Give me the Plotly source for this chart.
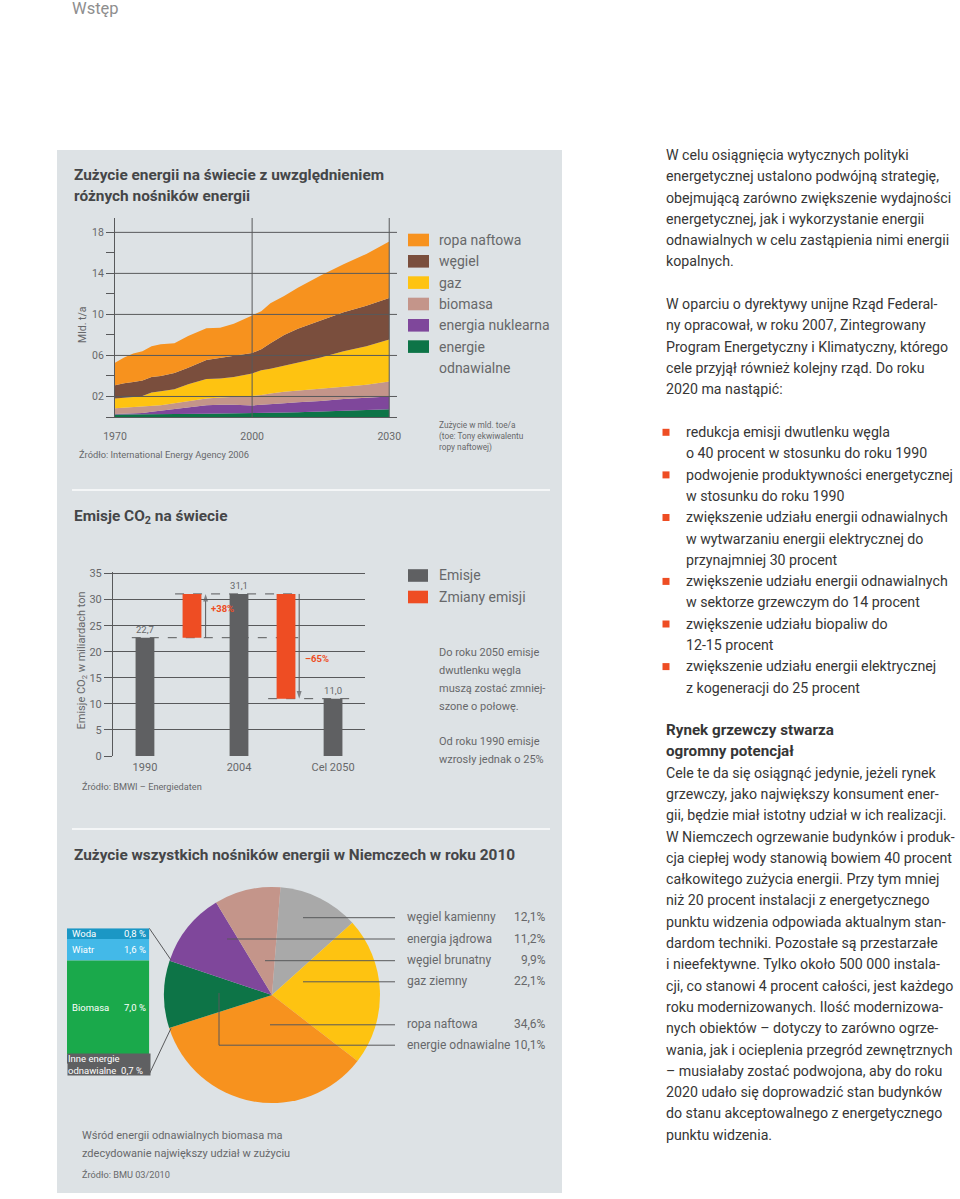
import plotly.graph_objects as go
from itertools import accumulate

W, H = 960, 1199
FONT = "Roboto"
TXT = "#363636"
CH = "#67686a"
TITLE = "#454648"
GRID = "#58595b"
PANEL = "#dde2e5"
RED = "#ee4d23"
GRAYBAR = "#5f6062"
BODY = 14.2

# ---------------- data: world energy use (Mld. toe/a), IEA 2006 ----------------
years = [1970, 1972, 1974, 1976, 1978, 1980, 1983, 1986, 1990, 1993,
         1996, 2000, 2002, 2004, 2007, 2010, 2015, 2020, 2025, 2030]
renewables = [0.25, 0.25, 0.26, 0.27, 0.28, 0.28, 0.29, 0.30, 0.32, 0.33,
              0.34, 0.35, 0.37, 0.40, 0.43, 0.47, 0.53, 0.60, 0.67, 0.75]
nuclear = [0.05, 0.07, 0.09, 0.13, 0.22, 0.32, 0.51, 0.65, 0.83, 0.87,
           0.86, 0.77, 0.83, 0.90, 0.92, 0.98, 1.02, 1.15, 1.18, 1.25]
biomass = [0.55, 0.58, 0.60, 0.60, 0.60, 0.55, 0.55, 0.60, 0.65, 0.70,
           0.75, 0.93, 0.95, 1.00, 1.10, 1.10, 1.20, 1.20, 1.30, 1.45]
gas = [0.95, 0.95, 1.00, 1.05, 1.30, 1.35, 1.35, 1.65, 1.90, 1.85,
       1.95, 2.20, 2.40, 2.40, 2.55, 2.75, 3.05, 3.45, 3.75, 4.10]
coal = [1.30, 1.45, 1.45, 1.50, 1.50, 1.50, 1.60, 1.60, 1.85, 2.00,
        2.05, 2.00, 2.05, 2.50, 3.00, 3.30, 3.60, 3.80, 3.95, 4.05]
oil = [2.20, 2.50, 2.80, 2.85, 3.00, 3.10, 2.90, 3.10, 3.10, 2.95,
       3.15, 3.70, 3.70, 3.90, 3.80, 4.00, 4.40, 4.70, 5.05, 5.50]
energy_names = ["energie odnawialne", "energia nuklearna", "biomasa", "gaz", "węgiel", "ropa naftowa"]
energy_series = [renewables, nuclear, biomass, gas, coal, oil]
energy_colors = ["#0d7447", "#7f479b", "#c4958a", "#fec311", "#7a4e3d", "#f7921e"]
world_xticks = [1970, 2000, 2030]
world_yticks = [2, 6, 10, 14, 18]
world_yticktext = ["02", "06", "10", "14", "18"]
world_yminor = [0, 4, 8, 12, 16]

# ---------------- data: CO2 emissions (mld t) ----------------
co2_labels = ["1990", "2004", "Cel 2050"]
co2_values = [22.7, 31.1, 11.0]
co2_change_text = ["+38%", "–65%"]

# ---------------- data: Germany 2010 energy mix (%) ----------------
de_labels = ["węgiel kamienny", "energia jądrowa", "węgiel brunatny", "gaz ziemny", "ropa naftowa", "energie odnawialne"]
de_values = [12.1, 11.2, 9.9, 22.1, 34.6, 10.1]
de_colors = ["#a9a9a9", "#7f479b", "#c4958a", "#fec311", "#f7921e", "#0d7447"]
pie_order = ["węgiel kamienny", "gaz ziemny", "ropa naftowa", "energie odnawialne", "energia jądrowa", "węgiel brunatny"]

ren_labels = ["Woda", "Wiatr", "Biomasa", "Inne energie odnawialne"]
ren_values = [0.8, 1.6, 7.0, 0.7]
ren_colors = ["#1b97c5", "#43b9e8", "#1aa94b", "#5f6062"]


def px(x):
    return x / W


def py(y):
    return 1 - y / H


def pl(v, suffix="%"):
    return f"{v:.1f}".replace(".", ",") + suffix


shapes = []
ann = []


def T(x, y, s, size=BODY, color=TXT, bold=False, xa="left", angle=0):
    ann.append(dict(x=px(x), y=py(y), xref="paper", yref="paper",
                    text=(f"<b>{s}</b>" if bold else s), showarrow=False,
                    xanchor=xa, yanchor="middle", textangle=angle,
                    font=dict(size=size, color=color, family=FONT)))


def L(x0, y0, x1, y1, color=GRID, width=1, dash=None, layer="above"):
    shapes.append(dict(type="line", xref="paper", yref="paper", layer=layer,
                       x0=px(x0), y0=py(y0), x1=px(x1), y1=py(y1),
                       line=dict(color=color, width=width, dash=dash)))


def R(x0, y0, x1, y1, color, layer="above"):
    shapes.append(dict(type="rect", xref="paper", yref="paper", layer=layer,
                       x0=px(x0), y0=py(y0), x1=px(x1), y1=py(y1),
                       fillcolor=color, line=dict(width=0)))


# background panel
R(57, 150, 562, 1193, PANEL, layer="below")
# separators
L(72, 490, 550, 490, color="#f4f6f7", width=2)
L(72, 829, 550, 829, color="#f4f6f7", width=2)

fig = go.Figure()

# ---------------- chart 1: stacked area ----------------
for name, vals, col in zip(energy_names, energy_series, energy_colors):
    fig.add_trace(go.Scatter(x=years, y=vals, name=name, mode="lines", stackgroup="world",
                             line=dict(width=0, color=col), fillcolor=col,
                             xaxis="x", yaxis="y", hoverinfo="skip"))
# grid lines drawn above the areas
for v in world_yticks:
    shapes.append(dict(type="line", xref="x domain", yref="y", x0=0, x1=1, y0=v, y1=v,
                       layer="above", line=dict(color=GRID, width=1)))
for v in world_xticks[1:]:
    shapes.append(dict(type="line", xref="x", yref="y domain", x0=v, x1=v, y0=0, y1=1,
                       layer="above", line=dict(color=GRID, width=1)))

T(72, 175, "Zużycie energii na świecie z uwzględnieniem", 15.4, TITLE, True)
T(72, 196.5, "różnych nośników energii", 15.4, TITLE, True)
T(82, 325, "Mld. t/a", 10.5, CH, xa="center", angle=-90)
T(77, 455, "Źródło: International Energy Agency 2006", 9.3, CH)

leg_y = [240, 261.3, 282.6, 304, 325.3, 346.6]
for yy, name, col in zip(leg_y, energy_names[::-1], energy_colors[::-1]):
    R(408, yy - 6.3, 429, yy + 6.3, col)
    T(437, yy, "energie" if name == "energie odnawialne" else name, 14, CH)
T(437, 368, "odnawialne", 14, CH)
T(437, 425, "Zużycie w mld. toe/a", 8.3, CH)
T(437, 436, "(toe: Tony ekwiwalentu", 8.3, CH)
T(437, 447, "ropy naftowej)", 8.3, CH)

# ---------------- chart 2: CO2 bars ----------------
co2_x = [0, 2, 4]
fig.add_trace(go.Bar(x=co2_x, y=co2_values, width=0.4, name="Emisje",
                     marker=dict(color=GRAYBAR, line=dict(width=0)),
                     texttemplate="%{y:.1f}", textposition="outside",
                     textfont=dict(size=9.5, color=CH, family=FONT), cliponaxis=False,
                     xaxis="x2", yaxis="y2", hoverinfo="skip"))
chg_base = [min(a, b) for a, b in zip(co2_values[:-1], co2_values[1:])]
chg_len = [abs(b - a) for a, b in zip(co2_values[:-1], co2_values[1:])]
fig.add_trace(go.Bar(x=[1, 3], y=chg_len, base=chg_base, width=0.4, name="Zmiany emisji",
                     marker=dict(color=RED, line=dict(width=0)),
                     xaxis="x2", yaxis="y2", hoverinfo="skip"))
for yv, x0, x1 in [(co2_values[0], -0.28, 3.26), (co2_values[1], 0.64, 3.23), (co2_values[2], 2.62, 4.36)]:
    shapes.append(dict(type="line", xref="x2", yref="y2", x0=x0, x1=x1, y0=yv, y1=yv,
                       layer="below", line=dict(color=GRID, width=1, dash="dash")))
# change arrows (line with arrow-head marker at the end)
for xa_, y_from, y_to in [(1.29, co2_values[0], co2_values[1]), (3.28, co2_values[1], co2_values[2])]:
    fig.add_trace(go.Scatter(x=[xa_, xa_], y=[y_from, y_to], mode="lines+markers",
                             line=dict(color=GRID, width=1),
                             marker=dict(symbol=["circle", "arrow"], size=[0, 8], angleref="previous",
                                         color=GRID, line=dict(width=0)),
                             xaxis="x2", yaxis="y2", hoverinfo="skip", cliponaxis=False))
ann.append(dict(x=1.36, y=28.3, xref="x2", yref="y2", text=f"<b>{co2_change_text[0]}</b>",
                showarrow=False, xanchor="left", font=dict(size=9.5, color=RED, family=FONT)))
ann.append(dict(x=3.36, y=18.8, xref="x2", yref="y2", text=f"<b>{co2_change_text[1]}</b>",
                showarrow=False, xanchor="left", font=dict(size=9.5, color=RED, family=FONT)))

T(72, 517, "Emisje CO<sub>2</sub> na świecie", 15.4, TITLE, True)
T(81.5, 661, "Emisje CO<sub>2</sub> w miliardach ton", 11, CH, xa="center", angle=-90)
T(80, 786, "Źródło: BMWI – Energiedaten", 9.2, CH)
for yy, name, col in [(575.5, "Emisje", GRAYBAR), (597, "Zmiany emisji", RED)]:
    R(408, yy - 6.3, 428, yy + 6.3, col)
    T(437, yy, name, 14, CH)
for yy, s in [(652.7, "Do roku 2050 emisje"), (670.5, "dwutlenku węgla"), (688.3, "muszą zostać zmniej-"),
              (706, "szone o połowę."), (741.5, "Od roku 1990 emisje"), (759.3, "wzrosły jednak o 25%")]:
    T(437, yy, s, 11, CH)

# ---------------- chart 3: pie ----------------
idx = [de_labels.index(n) for n in pie_order]
fig.add_trace(go.Pie(values=[de_values[i] for i in idx], labels=[de_labels[i] for i in idx],
                     marker=dict(colors=[de_colors[i] for i in idx], line=dict(width=0)),
                     sort=False, direction="clockwise", rotation=4.5, textinfo="none",
                     hoverinfo="skip", domain=dict(x=[px(164), px(380)], y=[py(1103), py(887)])))

T(72, 855, "Zużycie wszystkich nośników energii w Niemczech w roku 2010", 15.4, TITLE, True)
label_y = [917.7, 939, 960.7, 981.8, 1024.8, 1045.2]
line_start = [303, 227, 265, 303, 270, 219]
for yy, xs, name, v in zip(label_y, line_start, de_labels, de_values):
    L(xs, yy, 395, yy, GRID, 1)
    T(405, yy - 0.5, name, 12, CH)
    T(548, yy - 0.5, pl(v), 12, CH, xa="right")
L(219, 993, 219, 1045.2, GRID, 1)

# renewable breakdown column
ren_base = [0] + list(accumulate(ren_values))[:-1]
for name, v, b, col in zip(ren_labels, ren_values, ren_base, ren_colors):
    fig.add_trace(go.Bar(x=[0], y=[v], base=[b], width=1, name=name,
                         marker=dict(color=col, line=dict(width=0)),
                         xaxis="x3", yaxis="y3", hoverinfo="skip"))
for name, v, b in list(zip(ren_labels, ren_values, ren_base))[:3]:
    ann.append(dict(x=px(70), y=b + v / 2, xref="paper", yref="y3", text=name, showarrow=False,
                    xanchor="left", yanchor="middle", font=dict(size=9.5, color="white", family=FONT)))
    ann.append(dict(x=px(147.5), y=b + v / 2, xref="paper", yref="y3", text=pl(v, " %"),
                    showarrow=False, xanchor="right", yanchor="middle",
                    font=dict(size=9.5, color="white", family=FONT)))
ann.append(dict(x=px(67), y=py(1053.3), xref="paper", yref="paper", xanchor="left", yanchor="top",
                text="Inne energie<br>odnawialne  " + pl(ren_values[3], " %"), showarrow=False,
                align="left", width=82, height=21, borderpad=0, bgcolor=ren_colors[3],
                font=dict(size=9.5, color="white", family=FONT)))
L(149.3, 928.3, 171, 960, GRID, 1)
L(149.3, 1074, 171, 1028.3, GRID, 1)

T(80, 1135, "Wśród energii odnawialnych biomasa ma", 11, CH)
T(80, 1153.3, "zdecydowanie największy udział w zużyciu", 11, CH)
T(80, 1174.3, "Źródło: BMU 03/2010", 9.2, CH)

# ---------------- page text ----------------
T(70, 9, "Wstęp", 16.5, "#8e8e8e")

LS = 21.3
p1 = ["W celu osiągnięcia wytycznych polityki",
      "energetycznej ustalono podwójną strategię,",
      "obejmującą zarówno zwiększenie wydajności",
      "energetycznej, jak i wykorzystanie energii",
      "odnawialnych w celu zastąpienia nimi energii",
      "kopalnych."]
p2 = ["W oparciu o dyrektywy unijne Rząd Federal-",
      "ny opracował, w roku 2007, Zintegrowany",
      "Program Energetyczny i Klimatyczny, którego",
      "cele przyjął również kolejny rząd. Do roku",
      "2020 ma nastąpić:"]
for i, s in enumerate(p1):
    T(664, 155 + i * LS, s)
for i, s in enumerate(p2):
    T(664, 304 + i * LS, s)

bullets = [["redukcja emisji dwutlenku węgla", "o 40 procent w stosunku do roku 1990"],
           ["podwojenie produktywności energetycznej", "w stosunku do roku 1990"],
           ["zwiększenie udziału energii odnawialnych", "w wytwarzaniu energii elektrycznej do",
            "przynajmniej 30 procent"],
           ["zwiększenie udziału energii odnawialnych", "w sektorze grzewczym do 14 procent"],
           ["zwiększenie udziału biopaliw do", "12-15 procent"],
           ["zwiększenie udziału energii elektrycznej", "z kogeneracji do 25 procent"]]
yy = 432
for b in bullets:
    R(662.5, yy - 3.2, 669.5, yy + 3.8, RED)
    for s in b:
        T(684, yy, s)
        yy += LS

T(664, 730, "Rynek grzewczy stwarza", 15.2, TXT, True)
T(664, 751.3, "ogromny potencjał", 15.2, TXT, True)
body = ["Cele te da się osiągnąć jedynie, jeżeli rynek",
        "grzewczy, jako największy konsument ener-",
        "gii, będzie miał istotny udział w ich realizacji.",
        "W Niemczech ogrzewanie budynków i produk-",
        "cja ciepłej wody stanowią bowiem 40 procent",
        "całkowitego zużycia energii. Przy tym mniej",
        "niż 20 procent instalacji z energetycznego",
        "punktu widzenia odpowiada aktualnym stan-",
        "dardom techniki. Pozostałe są przestarzałe",
        "i nieefektywne. Tylko około 500 000 instala-",
        "cji, co stanowi 4 procent całości, jest każdego",
        "roku modernizowanych. Ilość modernizowa-",
        "nych obiektów – dotyczy to zarówno ogrze-",
        "wania, jak i ocieplenia przegród zewnętrznych",
        "– musiałaby zostać podwojona, aby do roku",
        "2020 udało się doprowadzić stan budynków",
        "do stanu akceptowalnego z energetycznego",
        "punktu widzenia."]
for i, s in enumerate(body):
    T(664, 772.6 + i * LS, s)

tickfont = dict(size=10.5, color=CH, family=FONT)
fig.update_layout(
    width=W, height=H, margin=dict(l=0, r=0, t=0, b=0, autoexpand=False),
    paper_bgcolor="white", plot_bgcolor="rgba(0,0,0,0)",
    barmode="overlay", separators=", ", showlegend=False, hovermode=False,
    font=dict(family=FONT, color=CH),
    xaxis=dict(domain=[px(115), px(397)], range=[1970, 2031.7], tickvals=world_xticks,
               ticks="", showgrid=False, zeroline=False, showline=True, linecolor=GRID,
               linewidth=1, tickfont=tickfont, ticklabelstandoff=9, anchor="y", fixedrange=True),
    yaxis=dict(domain=[py(417), py(218)], range=[0, 19.4], tickvals=world_yticks,
               ticktext=world_yticktext, ticks="outside", ticklen=8, tickcolor=GRID,
               minor=dict(tickvals=world_yminor, ticks="outside", ticklen=8, tickcolor=GRID,
                          showgrid=False),
               showgrid=False, zeroline=False, showline=True, linecolor=GRID, linewidth=1,
               tickfont=tickfont, anchor="x", fixedrange=True),
    xaxis2=dict(domain=[px(113), px(365)], range=[-0.68, 4.68], tickvals=co2_x,
                ticktext=co2_labels, ticks="", showgrid=False, zeroline=False, showline=False,
                tickfont=dict(size=11, color=CH, family=FONT), ticklabelstandoff=3,
                anchor="y2", fixedrange=True),
    yaxis2=dict(domain=[py(756), py(571.5)], range=[0, 35.4], tickvals=list(range(0, 36, 5)),
                ticks="outside", ticklen=8, tickcolor=GRID, showgrid=True, gridcolor=GRID,
                gridwidth=1, zeroline=False, showline=True, linecolor=GRID, linewidth=1,
                tickfont=dict(size=11, color=CH, family=FONT), anchor="x2", fixedrange=True),
    xaxis3=dict(domain=[px(67), px(149.3)], range=[-0.5, 0.5], visible=False, anchor="y3",
                fixedrange=True),
    yaxis3=dict(domain=[py(928.3 + sum(ren_values) * 13.4), py(928.3)],
                range=[sum(ren_values), 0], visible=False, anchor="x3", fixedrange=True),
    shapes=shapes, annotations=ann,
)

fig.write_html("out.html", config={"displayModeBar": False, "staticPlot": True},
               post_script="document.body.style.margin='0';document.body.style.overflow='hidden';")
